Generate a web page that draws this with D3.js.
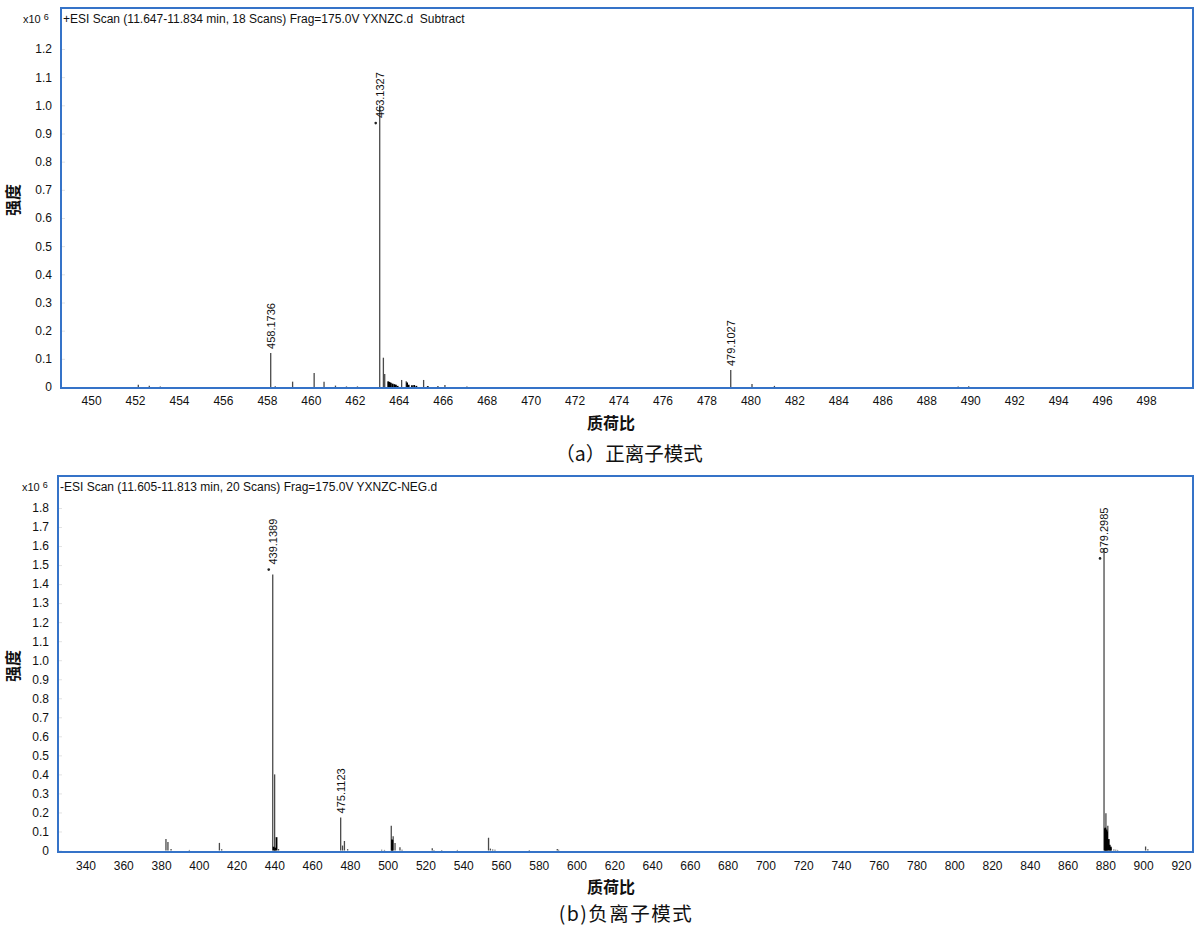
<!DOCTYPE html>
<html>
<head>
<meta charset="utf-8">
<script src="https://cdn.jsdelivr.net/npm/d3@7"></script>
<style>
  html, body { margin: 0; padding: 0; background: #fff; }
  svg { display: block; }
</style>
</head>
<body>
<svg id="chart" width="1200" height="929"></svg>
<script>
// ---------------- DATA ----------------
// Panel (a) positive ion mode
const posHeader = "+ESI Scan (11.647-11.834 min, 18 Scans) Frag=175.0V YXNZC.d\u00a0\u00a0Subtract";
const posXTicks = d3.range(450, 499, 2);
const posYTicks = [0, 0.1, 0.2, 0.3, 0.4, 0.5, 0.6, 0.7, 0.8, 0.9, 1.0, 1.1, 1.2];
const posMz = [452.15, 452.65, 453.15, 458.1736, 458.38, 459.17, 460.15, 460.6, 461.12, 461.62, 462.12,
  463.1327, 463.30, 463.36, 464.13, 464.34, 465.13, 466.1, 467.1, 479.1027, 480.07, 481.09, 489.45, 489.93];
const posIntensity = [0.008, 0.004, 0.002, 0.121, 0.003, 0.019, 0.050, 0.019, 0.005, 0.002, 0.002,
  1.0, 0.104, 0.046, 0.025, 0.020, 0.025, 0.007, 0.002, 0.060, 0.011, 0.004, 0.002, 0.003];
const posDarkMz = [463.52, 463.58, 463.64, 463.72, 463.80, 463.87, 463.95, 464.38, 464.45, 464.60, 464.70, 464.80, 465.32, 465.78];
const posDarkIntensity = [0.020, 0.018, 0.015, 0.012, 0.010, 0.008, 0.004, 0.016, 0.008, 0.006, 0.007, 0.004, 0.003, 0.002];
const posLabelMz = [458.1736, 463.1327, 479.1027];
const posLabelText = ["458.1736", "463.1327", "479.1027"];
const posLabelStar = [false, true, false];
const posLabelAt = [null, 0.937, null];   // intensity where the label starts (null = just above peak)

// Panel (b) negative ion mode
const negHeader = "-ESI Scan (11.605-11.813 min, 20 Scans) Frag=175.0V YXNZC-NEG.d";
const negXTicks = d3.range(340, 921, 20);
const negYTicks = [0, 0.1, 0.2, 0.3, 0.4, 0.5, 0.6, 0.7, 0.8, 0.9, 1.0, 1.1, 1.2, 1.3, 1.4, 1.5, 1.6, 1.7, 1.8];
const negMz = [382.6, 383.65, 385.3, 395.0, 410.9, 412.1, 439.1389, 440.14, 442.2, 475.1123, 476.1, 477.1, 478.8,
  496.8, 498.3, 501.9, 502.9, 503.9, 506.5, 507.6, 523.6, 524.5, 528.6, 536.9, 553.4, 554.4, 555.6, 556.8, 575.0,
  589.8, 590.5, 879.2985, 880.3, 881.3, 883.0, 884.5, 885.5, 886.5, 901.3, 902.5];
const negIntensity = [0.060, 0.045, 0.008, 0.003, 0.040, 0.006, 1.45, 0.40, 0.008, 0.174, 0.026, 0.050, 0.007,
  0.004, 0.003, 0.130, 0.075, 0.040, 0.017, 0.004, 0.012, 0.003, 0.003, 0.003, 0.067, 0.010, 0.005, 0.004, 0.003,
  0.008, 0.004, 1.59, 0.196, 0.130, 0.012, 0.005, 0.004, 0.003, 0.021, 0.007];
const negDarkMz = [439.6, 440.4, 441.15, 502.3, 502.5, 879.8, 880.0, 880.6, 880.9, 881.8, 882.3, 882.9];
const negDarkIntensity = [0.020, 0.015, 0.070, 0.058, 0.055, 0.116, 0.120, 0.110, 0.100, 0.060, 0.030, 0.020];
const negLabelMz = [439.1389, 475.1123, 879.2985];
const negLabelText = ["439.1389", "475.1123", "879.2985"];
const negLabelStar = [true, false, true];
const negLabelAt = [null, null, 1.535];

const yAxisTitle = "强度";
const xAxisTitle = "质荷比";
const captionA = "（a）正离子模式";
const captionB = "(b)负离子模式";

// ---------------- DRAWING ----------------
const svg = d3.select("#chart");
const FONT = "'Liberation Sans', Arial, sans-serif";
const CJK = "'Noto Sans CJK SC', 'Noto Sans', sans-serif";
const BLUE = "#3573c8";

function panel(cfg) {
  const g = svg.append("g");
  const f = cfg.frame;
  const x = d3.scaleLinear().domain(cfg.xTickDomain).range(cfg.xTickRange);
  const y = d3.scaleLinear().domain([0, cfg.yTop]).range(cfg.yRange);

  const clipId = "clip" + cfg.id;
  svg.append("clipPath").attr("id", clipId).append("rect")
    .attr("x", f.x0).attr("y", f.y0).attr("width", f.x1 - f.x0).attr("height", f.y1 - f.y0);

  // y axis (faint inner ticks)
  const yAx = d3.axisLeft(y).tickValues(cfg.yTicks).tickSize(-4).tickPadding(9)
    .tickFormat(d => d === 0 ? "0" : d3.format(".1f")(d));
  const yg = g.append("g").attr("transform", `translate(${f.x0},0)`).call(yAx);
  yg.select(".domain").remove();
  yg.selectAll("line").attr("stroke", "#e2e2e2");
  yg.selectAll("text").attr("font-family", FONT).attr("font-size", 12).attr("fill", "#111");

  // x axis labels
  const xAx = d3.axisBottom(x).tickValues(cfg.xTicks).tickSize(0).tickPadding(cfg.xPad).tickFormat(d3.format("d"));
  const xg = g.append("g").attr("transform", `translate(0,${f.y1})`).call(xAx);
  xg.select(".domain").remove();
  xg.selectAll("text").attr("font-family", FONT).attr("font-size", 12).attr("fill", "#111");

  // peaks
  const pg = g.append("g").attr("clip-path", `url(#${clipId})`);
  const main = cfg.mz.map((m, i) => ({ mz: m, v: cfg.intensity[i] }));
  const dark = cfg.darkMz.map((m, i) => ({ mz: m, v: cfg.darkIntensity[i] }));
  pg.selectAll("line.main").data(main).join("line").attr("class", "main")
    .attr("x1", d => x(d.mz)).attr("x2", d => x(d.mz))
    .attr("y1", y(0)).attr("y2", d => y(d.v))
    .attr("stroke", "#4a4a4a").attr("stroke-width", 1.3);
  pg.selectAll("line.dark").data(dark).join("line").attr("class", "dark")
    .attr("x1", d => x(d.mz)).attr("x2", d => x(d.mz))
    .attr("y1", y(0)).attr("y2", d => y(d.v))
    .attr("stroke", "#000").attr("stroke-width", 1.8);

  // peak labels
  cfg.labelMz.forEach((m, i) => {
    const idx = cfg.mz.indexOf(m);
    const v = cfg.intensity[idx];
    const at = cfg.labelAt[i];
    const px = x(m);
    let base = at === null ? y(v) - 4 : y(at);
    if (cfg.labelStar[i]) {
      const starY = at === null ? y(v) - 5 : y(at);
      g.append("circle").attr("cx", px - 4).attr("cy", starY).attr("r", 1.3).attr("fill", "#222");
      base = starY - 5;
    }
    g.append("text")
      .attr("transform", `translate(${px + 4},${base}) rotate(-90)`)
      .attr("font-family", FONT).attr("font-size", 11).attr("fill", "#111")
      .text(cfg.labelText[i]);
  });

  // frame
  g.append("rect").attr("x", f.x0).attr("y", f.y0).attr("width", f.x1 - f.x0).attr("height", f.y1 - f.y0)
    .attr("fill", "none").attr("stroke", BLUE).attr("stroke-width", 2);

  // header
  g.append("text").attr("x", f.x0 + 2).attr("y", f.y0 + 15)
    .attr("font-family", FONT).attr("font-size", 12).attr("fill", "#111").text(cfg.header);

  // x10^6
  const ex = g.append("text").attr("x", cfg.expX).attr("y", f.y0 + 15)
    .attr("font-family", FONT).attr("font-size", 11).attr("fill", "#111");
  ex.append("tspan").text("x10 ");
  ex.append("tspan").attr("font-size", 9).attr("dy", -3).text("6");

  // axis titles
  g.append("text").attr("transform", `translate(19,${(f.y0 + f.y1) / 2 + 2}) rotate(-90)`)
    .attr("text-anchor", "middle").attr("font-family", CJK).attr("font-weight", "bold")
    .attr("font-size", 16).attr("fill", "#111").text(yAxisTitle);
  g.append("text").attr("x", 611).attr("y", f.y1 + 41).attr("text-anchor", "middle")
    .attr("font-family", CJK).attr("font-weight", "bold").attr("font-size", 16).attr("fill", "#111")
    .text(xAxisTitle);

  // caption
  g.append("text").attr("x", cfg.capX).attr("y", f.y1 + cfg.capDy).attr("text-anchor", "middle")
    .attr("font-family", CJK).attr("font-size", 19.5).attr("letter-spacing", cfg.capSpacing)
    .attr("fill", "#111").text(cfg.caption);
}

panel({
  id: "a", frame: { x0: 61, y0: 8, x1: 1193, y1: 388 },
  xTickDomain: [450, 498], xTickRange: [91.05, 1146.1], xTicks: posXTicks, xPad: 8,
  yTop: 1.2, yRange: [387, 49], yTicks: posYTicks,
  mz: posMz, intensity: posIntensity, darkMz: posDarkMz, darkIntensity: posDarkIntensity,
  labelMz: posLabelMz, labelText: posLabelText, labelStar: posLabelStar, labelAt: posLabelAt,
  header: posHeader, expX: 23, caption: captionA, capX: 629, capDy: 73, capSpacing: 0
});

panel({
  id: "b", frame: { x0: 58, y0: 476, x1: 1193, y1: 852 },
  xTickDomain: [340, 920], xTickRange: [85.5, 1180.9], xTicks: negXTicks, xPad: 9,
  yTop: 1.8, yRange: [850.5, 508], yTicks: negYTicks,
  mz: negMz, intensity: negIntensity, darkMz: negDarkMz, darkIntensity: negDarkIntensity,
  labelMz: negLabelMz, labelText: negLabelText, labelStar: negLabelStar, labelAt: negLabelAt,
  header: negHeader, expX: 22, caption: captionB, capX: 626, capDy: 69, capSpacing: 1.5
});
</script>
</body>
</html>
